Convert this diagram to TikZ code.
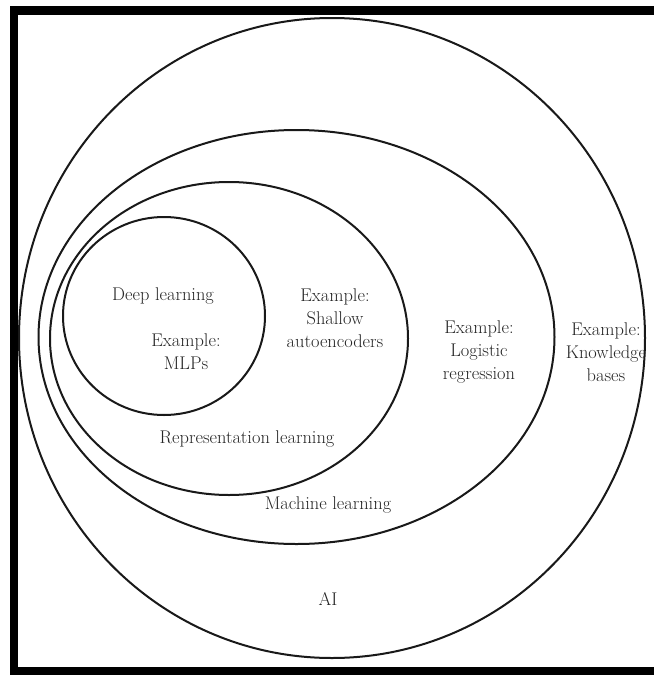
\documentclass[tikz,border=0pt]{standalone}
\begin{document}
\begin{tikzpicture}[x=1pt,y=-1pt,
  ring/.style={draw=black!90,line width=2pt},
  lbl/.style={font=\fontsize{18.4}{23}\selectfont,align=center,inner sep=0pt,text=black!85}]
\useasboundingbox (0,0) rectangle (654,675);
\fill[white] (0,0) rectangle (654,675);
% frame
\fill[black] (10,6) rectangle (654,15);
\fill[black] (10,6) rectangle (18,675);
\fill[black] (10,667) rectangle (654,675);
% sets
\draw[ring] (332,338) ellipse [x radius=313,y radius=320];
\draw[ring] (296.5,337) ellipse [x radius=258,y radius=207];
\draw[ring] (229,338.5) ellipse [x radius=179,y radius=156.5];
\draw[ring] (164,316) ellipse [x radius=101,y radius=99];
% labels
\node[lbl] (dl) at (163,296) {Deep learning};
\node[lbl] (mlp) at (186,352) {Example:\\MLPs};
\node[lbl] (sa) at (335,318) {Example:\\Shallow\\autoencoders};
\node[lbl] (lr) at (479,352) {Example:\\Logistic\\regression};
\node[lbl] (kb) at (606,352) {Example:\\Knowledge\\bases};
\node[lbl] (rl) at (247,439) {Representation learning};
\node[lbl] (ml) at (328,505) {Machine learning};
\node[lbl] (ai) at (328,599) {AI};
\end{tikzpicture}
\end{document}
